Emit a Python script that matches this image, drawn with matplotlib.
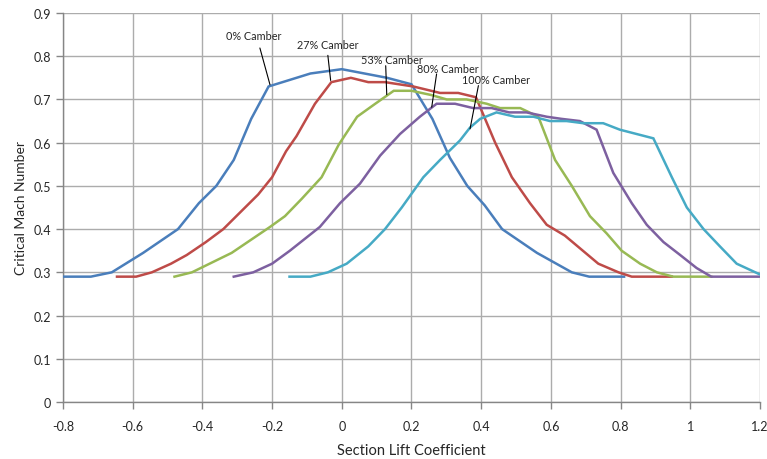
import numpy as np
import matplotlib
matplotlib.use("Agg")
import matplotlib.pyplot as plt
from matplotlib.ticker import FuncFormatter, MultipleLocator

plt.rcParams["font.family"] = ["Lato", "DejaVu Sans"]

# critical Mach number vs section lift coefficient, one curve per camber
cl_0 = [-0.8, -0.72, -0.66, -0.57, -0.47, -0.41, -0.36, -0.31, -0.26, -0.21, -0.15, -0.09,
        0.0, 0.13, 0.2, 0.26, 0.31, 0.36, 0.41, 0.46, 0.56, 0.66, 0.71, 0.81]
m_0 = [0.29, 0.29, 0.30, 0.345, 0.40, 0.46, 0.50, 0.56, 0.655, 0.73, 0.745, 0.76,
       0.77, 0.75, 0.735, 0.655, 0.565, 0.50, 0.455, 0.40, 0.345, 0.30, 0.29, 0.29]

cl_27 = [-0.645, -0.59, -0.545, -0.49, -0.445, -0.39, -0.34, -0.24, -0.20, -0.16, -0.13, -0.077,
         -0.03, 0.026, 0.076, 0.124, 0.205, 0.282, 0.334, 0.385, 0.44, 0.488, 0.54, 0.588,
         0.64, 0.736, 0.794, 0.832, 0.947]
m_27 = [0.29, 0.29, 0.30, 0.32, 0.34, 0.37, 0.40, 0.48, 0.52, 0.58, 0.615, 0.69,
        0.74, 0.75, 0.74, 0.74, 0.73, 0.715, 0.715, 0.705, 0.60, 0.52, 0.46, 0.41,
        0.385, 0.32, 0.30, 0.29, 0.29]

cl_53 = [-0.48, -0.43, -0.316, -0.206, -0.163, -0.115, -0.058, -0.009, 0.044, 0.096, 0.149, 0.2,
         0.258, 0.301, 0.358, 0.416, 0.454, 0.512, 0.564, 0.612, 0.66, 0.712, 0.76, 0.803,
         0.856, 0.904, 0.951, 1.06]
m_53 = [0.29, 0.30, 0.345, 0.405, 0.43, 0.47, 0.52, 0.595, 0.66, 0.69, 0.72, 0.72,
        0.71, 0.70, 0.70, 0.69, 0.68, 0.68, 0.66, 0.56, 0.50, 0.43, 0.39, 0.35,
        0.32, 0.30, 0.29, 0.29]

cl_80 = [-0.31, -0.254, -0.20, -0.149, -0.063, -0.005, 0.052, 0.11, 0.167, 0.224, 0.272, 0.325,
         0.377, 0.43, 0.48, 0.53, 0.588, 0.631, 0.683, 0.731, 0.779, 0.832, 0.875, 0.923,
         0.971, 1.018, 1.06, 1.2]
m_80 = [0.29, 0.30, 0.32, 0.35, 0.405, 0.46, 0.505, 0.57, 0.62, 0.66, 0.69, 0.69,
        0.68, 0.68, 0.67, 0.67, 0.66, 0.655, 0.65, 0.63, 0.53, 0.46, 0.41, 0.37,
        0.34, 0.31, 0.29, 0.29]

cl_100 = [-0.15, -0.09, -0.04, 0.014, 0.076, 0.124, 0.172, 0.234, 0.282, 0.339, 0.368, 0.397,
          0.444, 0.497, 0.55, 0.597, 0.645, 0.693, 0.75, 0.798, 0.846, 0.894, 0.947, 0.99,
          1.038, 1.085, 1.133, 1.2]
m_100 = [0.29, 0.29, 0.30, 0.32, 0.36, 0.40, 0.45, 0.52, 0.56, 0.605, 0.635, 0.655,
         0.67, 0.66, 0.66, 0.65, 0.65, 0.645, 0.645, 0.63, 0.62, 0.61, 0.52, 0.45,
         0.40, 0.36, 0.32, 0.295]

labels = ["0% Camber", "27% Camber", "53% Camber", "80% Camber", "100% Camber"]
colors = ["#4a7ebb", "#be4b48", "#98b954", "#7d60a0", "#46aac5"]

# label text centre, leader start, leader end (data coords)
label_pos = [(-0.254, 0.847), (-0.039, 0.826), (0.145, 0.792), (0.304, 0.772), (0.444, 0.745)]
leader_from = [(-0.235, 0.819), (-0.04, 0.802), (0.126, 0.778), (0.272, 0.759), (0.392, 0.732)]
leader_to = [(-0.206, 0.734), (-0.032, 0.744), (0.129, 0.711), (0.258, 0.682), (0.368, 0.632)]

fig = plt.figure(figsize=(7.67, 4.6), dpi=100)
ax = fig.add_axes([0.0821, 0.1239, 0.9088, 0.8457])

series = [(cl_0, m_0), (cl_27, m_27), (cl_53, m_53), (cl_80, m_80), (cl_100, m_100)]
for (x, y), c in zip(series, colors):
    ax.plot(x, y, color=c, lw=1.8, solid_joinstyle="miter", zorder=3)

for lab, tp, p0, p1 in zip(labels, label_pos, leader_from, leader_to):
    ax.text(tp[0], tp[1], lab, ha="center", va="center", fontsize=7.8, color="#262626", zorder=5)
    ax.annotate("", xy=p1, xytext=p0,
                arrowprops=dict(arrowstyle="-", color="black", lw=0.8, shrinkA=0, shrinkB=0),
                zorder=4)

ax.set_xlim(-0.8, 1.2)
ax.set_ylim(0, 0.9)
ax.xaxis.set_major_locator(MultipleLocator(0.2))
ax.yaxis.set_major_locator(MultipleLocator(0.1))
fmt = FuncFormatter(lambda v, p: "%g" % round(v, 2))
ax.xaxis.set_major_formatter(fmt)
ax.yaxis.set_major_formatter(fmt)

ax.grid(True, color="#acacac", lw=1.0, zorder=0)
ax.set_axisbelow(True)
for s in ["top", "right"]:
    ax.spines[s].set_visible(False)
for s in ["left", "bottom"]:
    ax.spines[s].set_color("#868686")
    ax.spines[s].set_linewidth(1.0)
ax.tick_params(axis="both", colors="#868686", length=5, width=1.0, labelsize=9,
               labelcolor="#262626", direction="out")
ax.tick_params(axis="x", pad=8)

ax.set_xlabel("Section Lift Coefficient", fontsize=10.5, color="#262626", labelpad=8)
ax.set_ylabel("Critical Mach Number", fontsize=10, color="#262626", labelpad=5)

fig.savefig("out.png", dpi=100)
